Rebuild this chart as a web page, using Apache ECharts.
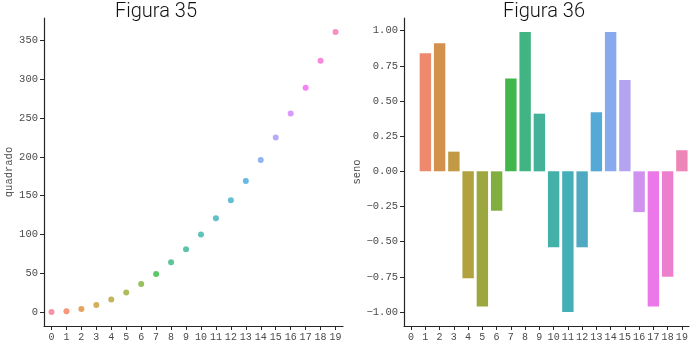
<!DOCTYPE html>
<html>
<head>
<meta charset="utf-8">
<script src="https://cdn.jsdelivr.net/npm/echarts@6/dist/echarts.min.js"></script>
<style>
html,body{margin:0;padding:0;background:#fff;}
#c{width:696px;height:347px;}
</style>
</head>
<body>
<div id="c"></div>
<script>
// ---- data ----
var categories = ['0','1','2','3','4','5','6','7','8','9','10','11','12','13','14','15','16','17','18','19'];
var quadrado = [0, 1, 4, 9, 16, 25, 36, 49, 64, 81, 100, 121, 144, 169, 196, 225, 256, 289, 324, 361];
var seno = [0.00, 0.84, 0.91, 0.14, -0.76, -0.96, -0.28, 0.66, 0.99, 0.41, -0.54, -1.00, -0.54, 0.42, 0.99, 0.65, -0.29, -0.96, -0.75, 0.15];
var yTicksLeft = [0, 50, 100, 150, 200, 250, 300, 350];
var yTicksRight = [-1.00, -0.75, -0.50, -0.25, 0.00, 0.25, 0.50, 0.75, 1.00];
var titles = ['Figura 35', 'Figura 36'];
var yNames = ['quadrado', 'seno'];

// ---- husl palette (seaborn style) ----
var M = [[3.2406,-1.5372,-0.4986],[-0.9689,1.8758,0.0415],[0.0557,-0.2040,1.0570]];
function maxChroma(L, H){
  var hr = H*Math.PI/180, sinH=Math.sin(hr), cosH=Math.cos(hr);
  var sub1 = Math.pow(L+16,3)/1560896, sub2 = sub1>0.008856?sub1:L/903.3;
  var res = Infinity;
  M.forEach(function(r){
    var m1=r[0],m2=r[1],m3=r[2];
    var top=(0.99915*m1+1.05122*m2+1.14460*m3)*sub2;
    var rb=0.86330*m3-0.17266*m2, lb=0.12949*m3-0.38848*m1;
    var bottom=(rb*sinH+lb*cosH)*sub2;
    [0,1].forEach(function(t){
      var C=L*(top-1.05122*t)/(bottom+0.17266*sinH*t);
      if(C>0&&C<res)res=C;
    });
  });
  return res;
}
function huslToRgb(H,S,L){
  var C = maxChroma(L,H)/100*S;
  var hr=H*Math.PI/180, U=Math.cos(hr)*C, V=Math.sin(hr)*C;
  var t=(L+16)/116, varY=Math.pow(t,3)>0.008856?Math.pow(t,3):(116*t-16)/903.3;
  var varU=U/(13*L)+0.19784, varV=V/(13*L)+0.46834;
  var Y=varY, X=-(9*Y*varU)/((varU-4)*varV-varU*varV);
  var Z=(9*Y-15*varV*Y-varV*X)/(3*varV);
  return M.map(function(r){
    var c=r[0]*X+r[1]*Y+r[2]*Z;
    c = c<=0.0031308?12.92*c:1.055*Math.pow(c,1/2.4)-0.055;
    return Math.min(1,Math.max(0,c));
  });
}
function rgbToHls(r,g,b){
  var mx=Math.max(r,g,b), mn=Math.min(r,g,b), l=(mx+mn)/2, h=0, s=0;
  if(mx!==mn){
    var d=mx-mn;
    s = l<=0.5? d/(mx+mn) : d/(2-mx-mn);
    var rc=(mx-r)/d, gc=(mx-g)/d, bc=(mx-b)/d;
    if(r===mx) h=bc-gc; else if(g===mx) h=2+rc-bc; else h=4+gc-rc;
    h=(h/6)%1; if(h<0)h+=1;
  }
  return [h,l,s];
}
function vv(m1,m2,h){h=((h%1)+1)%1; if(h<1/6)return m1+(m2-m1)*h*6; if(h<0.5)return m2; if(h<2/3)return m1+(m2-m1)*(2/3-h)*6; return m1;}
function hlsToRgb(h,l,s){
  if(s===0)return [l,l,l];
  var m2 = l<=0.5? l*(1+s) : l+s-l*s, m1=2*l-m2;
  return [vv(m1,m2,h+1/3),vv(m1,m2,h),vv(m1,m2,h-1/3)];
}
function toHex(c){return '#'+c.map(function(x){var s=Math.round(Math.min(1,Math.max(0,x))*255).toString(16);return s.length<2?'0'+s:s;}).join('');}
var n = categories.length;
var pal = [], palDesat = [];
for (var i=0;i<n;i++){
  var h = ((i/n)+0.01)%1*359;
  var rgb = huslToRgb(h, 0.9*99, 0.65*99);
  var hls = rgbToHls(rgb[0],rgb[1],rgb[2]);
  pal.push(toHex(hlsToRgb(hls[0], Math.min(1,hls[1]+0.015), hls[2])));
  palDesat.push(toHex(hlsToRgb(hls[0], Math.min(1,hls[1]+0.035), hls[2]*0.85)));
}

var FONT = 'Liberation Mono';
var TFONT = 'Roboto';
var ink = '#262626';
var lab = '#4a4a4a';
function fmtR(val){ return (val<0?'\u2212':'') + Math.abs(val).toFixed(2); }

var chart = echarts.init(document.getElementById('c'), null, {renderer:'canvas'});
function xAx(gi){
  return {type:'category', gridIndex:gi, data:categories, boundaryGap:true,
    axisLine:{show:true, onZero:false, lineStyle:{color:ink, width:1.2}},
    axisTick:{show:true, alignWithLabel:true, length:4, lineStyle:{color:ink}},
    axisLabel:{interval:0, margin:6, fontFamily:FONT, fontSize:10, color:lab},
    splitLine:{show:false}};
}
function yAx(gi, mn, mx, ticks, name, gap, fmt){
  var o = {type:'value', gridIndex:gi, min:mn, max:mx,
    name:name, nameLocation:'middle', nameGap:gap, nameTextStyle:{fontFamily:FONT, fontSize:10.5, color:lab},
    axisLine:{show:true, onZero:false, lineStyle:{color:ink, width:1.2}},
    axisTick:{show:true, length:4, lineStyle:{color:ink}, customValues:ticks},
    axisLabel:{margin:6, fontFamily:FONT, fontSize:10.5, color:lab, customValues:ticks},
    splitLine:{show:false}};
  if (fmt) o.axisLabel.formatter = fmt;
  return o;
}
chart.setOption({
  animation:false,
  backgroundColor:'#fff',
  graphic:[
    {type:'text', x:156, y:2, style:{text:titles[0], align:'center', verticalAlign:'top', fontFamily:TFONT, fontWeight:300, fontSize:20, fill:'#111'}},
    {type:'text', x:544, y:2, style:{text:titles[1], align:'center', verticalAlign:'top', fontFamily:TFONT, fontWeight:300, fontSize:20, fill:'#111'}}
  ],
  grid:[
    {left:44, top:18, width:299, height:308},
    {left:404, top:18, width:285, height:308}
  ],
  xAxis:[xAx(0), xAx(1)],
  yAxis:[
    yAx(0, -18.05, 379.05, yTicksLeft, yNames[0], 29),
    yAx(1, -1.0995, 1.0901, yTicksRight, yNames[1], 41, fmtR)
  ],
  series:[
    {type:'scatter', xAxisIndex:0, yAxisIndex:0, symbolSize:6,
      data: quadrado.map(function(q,i){return {value:[categories[i], q], itemStyle:{color:pal[i]}};})},
    {type:'bar', xAxisIndex:1, yAxisIndex:1, barCategoryGap:'20%',
      data: seno.map(function(s,i){return {value:s, itemStyle:{color:palDesat[i]}};})}
  ]
});
</script>
</body>
</html>
